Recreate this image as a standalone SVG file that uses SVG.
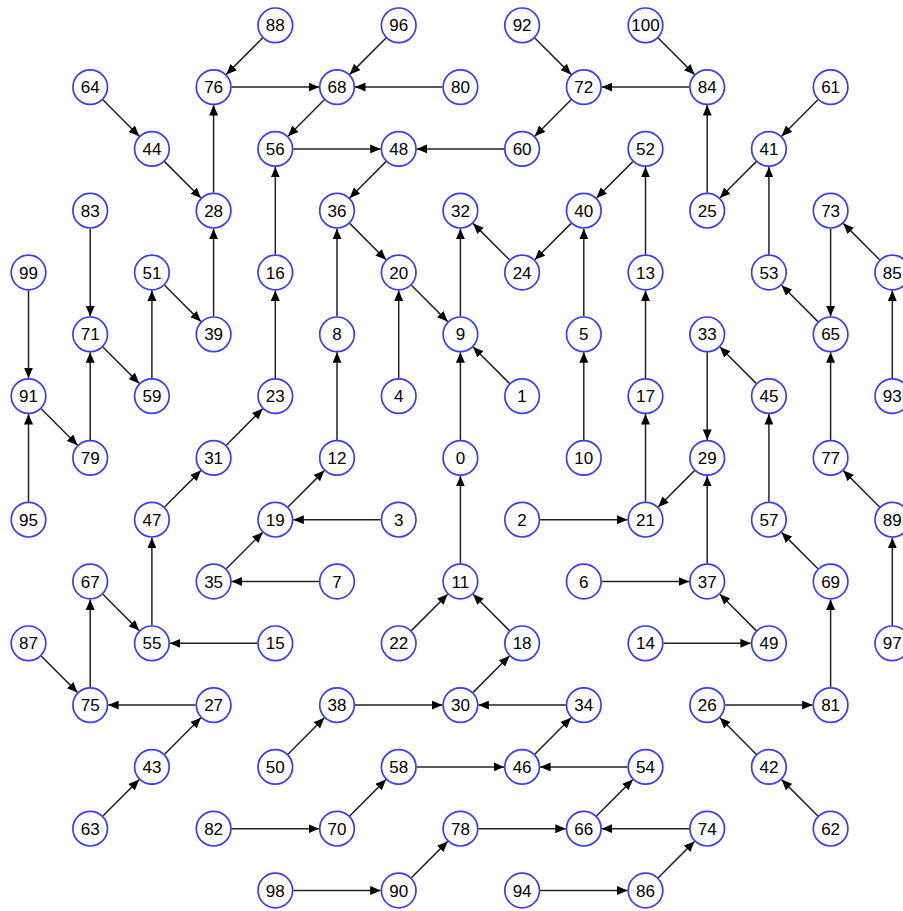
<svg xmlns="http://www.w3.org/2000/svg" width="903" height="911" viewBox="0 0 903 911">
<defs>
<marker id="arr" markerUnits="userSpaceOnUse" markerWidth="11" markerHeight="9" refX="10.5" refY="4.5" orient="auto">
<path d="M0,0 L10.5,4.5 L0,9 z" fill="#000"/>
</marker>
<style>
.e path{fill:none;stroke:#222;stroke-width:1.5;marker-end:url(#arr)}
.node circle{fill:#fff;stroke:#3b3bff;stroke-width:1.7}
.node text{font-family:"Liberation Sans",Arial,sans-serif;font-size:17px;text-anchor:middle;fill:#000}
</style>
</defs>
<rect width="903" height="911" fill="#fff"/>
<g id="connectors" class="e">
<path d="M262.6,38 l-36.3,36.4"/>
<path d="M386,38 l-36.3,36.4"/>
<path d="M534.8,38 l36.3,36.4"/>
<path d="M658.2,38 l36.3,36.4"/>
<path d="M102.9,99.8 l36.3,36.4"/>
<path d="M231.6,87.1 h87.4"/>
<path d="M442.4,87.1 h-87.4"/>
<path d="M689.2,87.1 h-87.4"/>
<path d="M817.9,99.8 l-36.3,36.4"/>
<path d="M324.3,99.8 l-36.3,36.4"/>
<path d="M293.3,148.9 h87.4"/>
<path d="M504.1,148.9 h-87.4"/>
<path d="M571.1,99.8 l-36.3,36.4"/>
<path d="M164.6,161.6 l36.3,36.4"/>
<path d="M213.6,192.7 v-87.6"/>
<path d="M386,161.6 l-36.3,36.4"/>
<path d="M632.8,161.6 l-36.3,36.4"/>
<path d="M756.2,161.6 l-36.3,36.4"/>
<path d="M707.2,192.7 v-87.6"/>
<path d="M275.3,254.5 v-87.6"/>
<path d="M349.7,223.4 l36.3,36.4"/>
<path d="M509.4,259.8 l-36.3,-36.4"/>
<path d="M571.1,223.4 l-36.3,36.4"/>
<path d="M645.5,254.5 v-87.6"/>
<path d="M768.9,254.5 v-87.6"/>
<path d="M830.6,228.7 v87.6"/>
<path d="M879.6,259.8 l-36.3,-36.4"/>
<path d="M90.2,228.7 v87.6"/>
<path d="M28.5,290.5 v87.6"/>
<path d="M164.6,285.2 l36.3,36.4"/>
<path d="M213.6,316.3 v-87.6"/>
<path d="M151.9,378.1 v-87.6"/>
<path d="M337,316.3 v-87.6"/>
<path d="M411.4,285.2 l36.3,36.4"/>
<path d="M398.7,378.1 v-87.6"/>
<path d="M460.4,316.3 v-87.6"/>
<path d="M583.8,316.3 v-87.6"/>
<path d="M645.5,378.1 v-87.6"/>
<path d="M817.9,321.6 l-36.3,-36.4"/>
<path d="M892.3,378.1 v-87.6"/>
<path d="M102.9,347 l36.3,36.4"/>
<path d="M90.2,439.9 v-87.6"/>
<path d="M41.2,408.8 l36.3,36.4"/>
<path d="M275.3,378.1 v-87.6"/>
<path d="M337,439.9 v-87.6"/>
<path d="M460.4,439.9 v-87.6"/>
<path d="M509.4,383.4 l-36.3,-36.4"/>
<path d="M583.8,439.9 v-87.6"/>
<path d="M707.2,352.3 v87.6"/>
<path d="M756.2,383.4 l-36.3,-36.4"/>
<path d="M830.6,439.9 v-87.6"/>
<path d="M28.5,501.7 v-87.6"/>
<path d="M226.3,445.2 l36.3,-36.4"/>
<path d="M164.6,507 l36.3,-36.4"/>
<path d="M288,507 l36.3,-36.4"/>
<path d="M380.7,519.7 h-87.4"/>
<path d="M540.1,519.7 h87.4"/>
<path d="M645.5,501.7 v-87.6"/>
<path d="M694.5,470.6 l-36.3,36.4"/>
<path d="M707.2,563.5 v-87.6"/>
<path d="M768.9,501.7 v-87.6"/>
<path d="M879.6,507 l-36.3,-36.4"/>
<path d="M226.3,568.8 l36.3,-36.4"/>
<path d="M319,581.5 h-87.4"/>
<path d="M460.4,563.5 v-87.6"/>
<path d="M601.8,581.5 h87.4"/>
<path d="M756.2,630.6 l-36.3,-36.4"/>
<path d="M817.9,568.8 l-36.3,-36.4"/>
<path d="M892.3,625.3 v-87.6"/>
<path d="M151.9,625.3 v-87.6"/>
<path d="M102.9,594.2 l36.3,36.4"/>
<path d="M257.3,643.3 h-87.4"/>
<path d="M411.4,630.6 l36.3,-36.4"/>
<path d="M509.4,630.6 l-36.3,-36.4"/>
<path d="M663.5,643.3 h87.4"/>
<path d="M830.6,687.1 v-87.6"/>
<path d="M41.2,656 l36.3,36.4"/>
<path d="M90.2,687.1 v-87.6"/>
<path d="M195.6,705.1 h-87.4"/>
<path d="M355,705.1 h87.4"/>
<path d="M473.1,692.4 l36.3,-36.4"/>
<path d="M565.8,705.1 h-87.4"/>
<path d="M725.2,705.1 h87.4"/>
<path d="M164.6,754.2 l36.3,-36.4"/>
<path d="M288,754.2 l36.3,-36.4"/>
<path d="M416.7,766.9 h87.4"/>
<path d="M534.8,754.2 l36.3,-36.4"/>
<path d="M627.5,766.9 h-87.4"/>
<path d="M756.2,754.2 l-36.3,-36.4"/>
<path d="M102.9,816 l36.3,-36.4"/>
<path d="M231.6,828.7 h87.4"/>
<path d="M349.7,816 l36.3,-36.4"/>
<path d="M478.4,828.7 h87.4"/>
<path d="M596.5,816 l36.3,-36.4"/>
<path d="M689.2,828.7 h-87.4"/>
<path d="M817.9,816 l-36.3,-36.4"/>
<path d="M293.3,890.5 h87.4"/>
<path d="M411.4,877.8 l36.3,-36.4"/>
<path d="M540.1,890.5 h87.4"/>
<path d="M658.2,877.8 l36.3,-36.4"/>
</g>
<g id="nodes">
<g id="n0" class="node" transform="translate(460.4,457.9)"><circle r="17.3"/><text y="6">0</text></g>
<g id="n1" class="node" transform="translate(522.1,396.1)"><circle r="17.3"/><text y="6">1</text></g>
<g id="n2" class="node" transform="translate(522.1,519.7)"><circle r="17.3"/><text y="6">2</text></g>
<g id="n3" class="node" transform="translate(398.7,519.7)"><circle r="17.3"/><text y="6">3</text></g>
<g id="n4" class="node" transform="translate(398.7,396.1)"><circle r="17.3"/><text y="6">4</text></g>
<g id="n5" class="node" transform="translate(583.8,334.3)"><circle r="17.3"/><text y="6">5</text></g>
<g id="n6" class="node" transform="translate(583.8,581.5)"><circle r="17.3"/><text y="6">6</text></g>
<g id="n7" class="node" transform="translate(337,581.5)"><circle r="17.3"/><text y="6">7</text></g>
<g id="n8" class="node" transform="translate(337,334.3)"><circle r="17.3"/><text y="6">8</text></g>
<g id="n9" class="node" transform="translate(460.4,334.3)"><circle r="17.3"/><text y="6">9</text></g>
<g id="n10" class="node" transform="translate(583.8,457.9)"><circle r="17.3"/><text y="6">10</text></g>
<g id="n11" class="node" transform="translate(460.4,581.5)"><circle r="17.3"/><text y="6">11</text></g>
<g id="n12" class="node" transform="translate(337,457.9)"><circle r="17.3"/><text y="6">12</text></g>
<g id="n13" class="node" transform="translate(645.5,272.5)"><circle r="17.3"/><text y="6">13</text></g>
<g id="n14" class="node" transform="translate(645.5,643.3)"><circle r="17.3"/><text y="6">14</text></g>
<g id="n15" class="node" transform="translate(275.3,643.3)"><circle r="17.3"/><text y="6">15</text></g>
<g id="n16" class="node" transform="translate(275.3,272.5)"><circle r="17.3"/><text y="6">16</text></g>
<g id="n17" class="node" transform="translate(645.5,396.1)"><circle r="17.3"/><text y="6">17</text></g>
<g id="n18" class="node" transform="translate(522.1,643.3)"><circle r="17.3"/><text y="6">18</text></g>
<g id="n19" class="node" transform="translate(275.3,519.7)"><circle r="17.3"/><text y="6">19</text></g>
<g id="n20" class="node" transform="translate(398.7,272.5)"><circle r="17.3"/><text y="6">20</text></g>
<g id="n21" class="node" transform="translate(645.5,519.7)"><circle r="17.3"/><text y="6">21</text></g>
<g id="n22" class="node" transform="translate(398.7,643.3)"><circle r="17.3"/><text y="6">22</text></g>
<g id="n23" class="node" transform="translate(275.3,396.1)"><circle r="17.3"/><text y="6">23</text></g>
<g id="n24" class="node" transform="translate(522.1,272.5)"><circle r="17.3"/><text y="6">24</text></g>
<g id="n25" class="node" transform="translate(707.2,210.7)"><circle r="17.3"/><text y="6">25</text></g>
<g id="n26" class="node" transform="translate(707.2,705.1)"><circle r="17.3"/><text y="6">26</text></g>
<g id="n27" class="node" transform="translate(213.6,705.1)"><circle r="17.3"/><text y="6">27</text></g>
<g id="n28" class="node" transform="translate(213.6,210.7)"><circle r="17.3"/><text y="6">28</text></g>
<g id="n29" class="node" transform="translate(707.2,457.9)"><circle r="17.3"/><text y="6">29</text></g>
<g id="n30" class="node" transform="translate(460.4,705.1)"><circle r="17.3"/><text y="6">30</text></g>
<g id="n31" class="node" transform="translate(213.6,457.9)"><circle r="17.3"/><text y="6">31</text></g>
<g id="n32" class="node" transform="translate(460.4,210.7)"><circle r="17.3"/><text y="6">32</text></g>
<g id="n33" class="node" transform="translate(707.2,334.3)"><circle r="17.3"/><text y="6">33</text></g>
<g id="n34" class="node" transform="translate(583.8,705.1)"><circle r="17.3"/><text y="6">34</text></g>
<g id="n35" class="node" transform="translate(213.6,581.5)"><circle r="17.3"/><text y="6">35</text></g>
<g id="n36" class="node" transform="translate(337,210.7)"><circle r="17.3"/><text y="6">36</text></g>
<g id="n37" class="node" transform="translate(707.2,581.5)"><circle r="17.3"/><text y="6">37</text></g>
<g id="n38" class="node" transform="translate(337,705.1)"><circle r="17.3"/><text y="6">38</text></g>
<g id="n39" class="node" transform="translate(213.6,334.3)"><circle r="17.3"/><text y="6">39</text></g>
<g id="n40" class="node" transform="translate(583.8,210.7)"><circle r="17.3"/><text y="6">40</text></g>
<g id="n41" class="node" transform="translate(768.9,148.9)"><circle r="17.3"/><text y="6">41</text></g>
<g id="n42" class="node" transform="translate(768.9,766.9)"><circle r="17.3"/><text y="6">42</text></g>
<g id="n43" class="node" transform="translate(151.9,766.9)"><circle r="17.3"/><text y="6">43</text></g>
<g id="n44" class="node" transform="translate(151.9,148.9)"><circle r="17.3"/><text y="6">44</text></g>
<g id="n45" class="node" transform="translate(768.9,396.1)"><circle r="17.3"/><text y="6">45</text></g>
<g id="n46" class="node" transform="translate(522.1,766.9)"><circle r="17.3"/><text y="6">46</text></g>
<g id="n47" class="node" transform="translate(151.9,519.7)"><circle r="17.3"/><text y="6">47</text></g>
<g id="n48" class="node" transform="translate(398.7,148.9)"><circle r="17.3"/><text y="6">48</text></g>
<g id="n49" class="node" transform="translate(768.9,643.3)"><circle r="17.3"/><text y="6">49</text></g>
<g id="n50" class="node" transform="translate(275.3,766.9)"><circle r="17.3"/><text y="6">50</text></g>
<g id="n51" class="node" transform="translate(151.9,272.5)"><circle r="17.3"/><text y="6">51</text></g>
<g id="n52" class="node" transform="translate(645.5,148.9)"><circle r="17.3"/><text y="6">52</text></g>
<g id="n53" class="node" transform="translate(768.9,272.5)"><circle r="17.3"/><text y="6">53</text></g>
<g id="n54" class="node" transform="translate(645.5,766.9)"><circle r="17.3"/><text y="6">54</text></g>
<g id="n55" class="node" transform="translate(151.9,643.3)"><circle r="17.3"/><text y="6">55</text></g>
<g id="n56" class="node" transform="translate(275.3,148.9)"><circle r="17.3"/><text y="6">56</text></g>
<g id="n57" class="node" transform="translate(768.9,519.7)"><circle r="17.3"/><text y="6">57</text></g>
<g id="n58" class="node" transform="translate(398.7,766.9)"><circle r="17.3"/><text y="6">58</text></g>
<g id="n59" class="node" transform="translate(151.9,396.1)"><circle r="17.3"/><text y="6">59</text></g>
<g id="n60" class="node" transform="translate(522.1,148.9)"><circle r="17.3"/><text y="6">60</text></g>
<g id="n61" class="node" transform="translate(830.6,87.1)"><circle r="17.3"/><text y="6">61</text></g>
<g id="n62" class="node" transform="translate(830.6,828.7)"><circle r="17.3"/><text y="6">62</text></g>
<g id="n63" class="node" transform="translate(90.2,828.7)"><circle r="17.3"/><text y="6">63</text></g>
<g id="n64" class="node" transform="translate(90.2,87.1)"><circle r="17.3"/><text y="6">64</text></g>
<g id="n65" class="node" transform="translate(830.6,334.3)"><circle r="17.3"/><text y="6">65</text></g>
<g id="n66" class="node" transform="translate(583.8,828.7)"><circle r="17.3"/><text y="6">66</text></g>
<g id="n67" class="node" transform="translate(90.2,581.5)"><circle r="17.3"/><text y="6">67</text></g>
<g id="n68" class="node" transform="translate(337,87.1)"><circle r="17.3"/><text y="6">68</text></g>
<g id="n69" class="node" transform="translate(830.6,581.5)"><circle r="17.3"/><text y="6">69</text></g>
<g id="n70" class="node" transform="translate(337,828.7)"><circle r="17.3"/><text y="6">70</text></g>
<g id="n71" class="node" transform="translate(90.2,334.3)"><circle r="17.3"/><text y="6">71</text></g>
<g id="n72" class="node" transform="translate(583.8,87.1)"><circle r="17.3"/><text y="6">72</text></g>
<g id="n73" class="node" transform="translate(830.6,210.7)"><circle r="17.3"/><text y="6">73</text></g>
<g id="n74" class="node" transform="translate(707.2,828.7)"><circle r="17.3"/><text y="6">74</text></g>
<g id="n75" class="node" transform="translate(90.2,705.1)"><circle r="17.3"/><text y="6">75</text></g>
<g id="n76" class="node" transform="translate(213.6,87.1)"><circle r="17.3"/><text y="6">76</text></g>
<g id="n77" class="node" transform="translate(830.6,457.9)"><circle r="17.3"/><text y="6">77</text></g>
<g id="n78" class="node" transform="translate(460.4,828.7)"><circle r="17.3"/><text y="6">78</text></g>
<g id="n79" class="node" transform="translate(90.2,457.9)"><circle r="17.3"/><text y="6">79</text></g>
<g id="n80" class="node" transform="translate(460.4,87.1)"><circle r="17.3"/><text y="6">80</text></g>
<g id="n81" class="node" transform="translate(830.6,705.1)"><circle r="17.3"/><text y="6">81</text></g>
<g id="n82" class="node" transform="translate(213.6,828.7)"><circle r="17.3"/><text y="6">82</text></g>
<g id="n83" class="node" transform="translate(90.2,210.7)"><circle r="17.3"/><text y="6">83</text></g>
<g id="n84" class="node" transform="translate(707.2,87.1)"><circle r="17.3"/><text y="6">84</text></g>
<g id="n85" class="node" transform="translate(892.3,272.5)"><circle r="17.3"/><text y="6">85</text></g>
<g id="n86" class="node" transform="translate(645.5,890.5)"><circle r="17.3"/><text y="6">86</text></g>
<g id="n87" class="node" transform="translate(28.5,643.3)"><circle r="17.3"/><text y="6">87</text></g>
<g id="n88" class="node" transform="translate(275.3,25.3)"><circle r="17.3"/><text y="6">88</text></g>
<g id="n89" class="node" transform="translate(892.3,519.7)"><circle r="17.3"/><text y="6">89</text></g>
<g id="n90" class="node" transform="translate(398.7,890.5)"><circle r="17.3"/><text y="6">90</text></g>
<g id="n91" class="node" transform="translate(28.5,396.1)"><circle r="17.3"/><text y="6">91</text></g>
<g id="n92" class="node" transform="translate(522.1,25.3)"><circle r="17.3"/><text y="6">92</text></g>
<g id="n93" class="node" transform="translate(892.3,396.1)"><circle r="17.3"/><text y="6">93</text></g>
<g id="n94" class="node" transform="translate(522.1,890.5)"><circle r="17.3"/><text y="6">94</text></g>
<g id="n95" class="node" transform="translate(28.5,519.7)"><circle r="17.3"/><text y="6">95</text></g>
<g id="n96" class="node" transform="translate(398.7,25.3)"><circle r="17.3"/><text y="6">96</text></g>
<g id="n97" class="node" transform="translate(892.3,643.3)"><circle r="17.3"/><text y="6">97</text></g>
<g id="n98" class="node" transform="translate(275.3,890.5)"><circle r="17.3"/><text y="6">98</text></g>
<g id="n99" class="node" transform="translate(28.5,272.5)"><circle r="17.3"/><text y="6">99</text></g>
<g id="n100" class="node" transform="translate(645.5,25.3)"><circle r="17.3"/><text y="6">100</text></g>
</g>
</svg>
